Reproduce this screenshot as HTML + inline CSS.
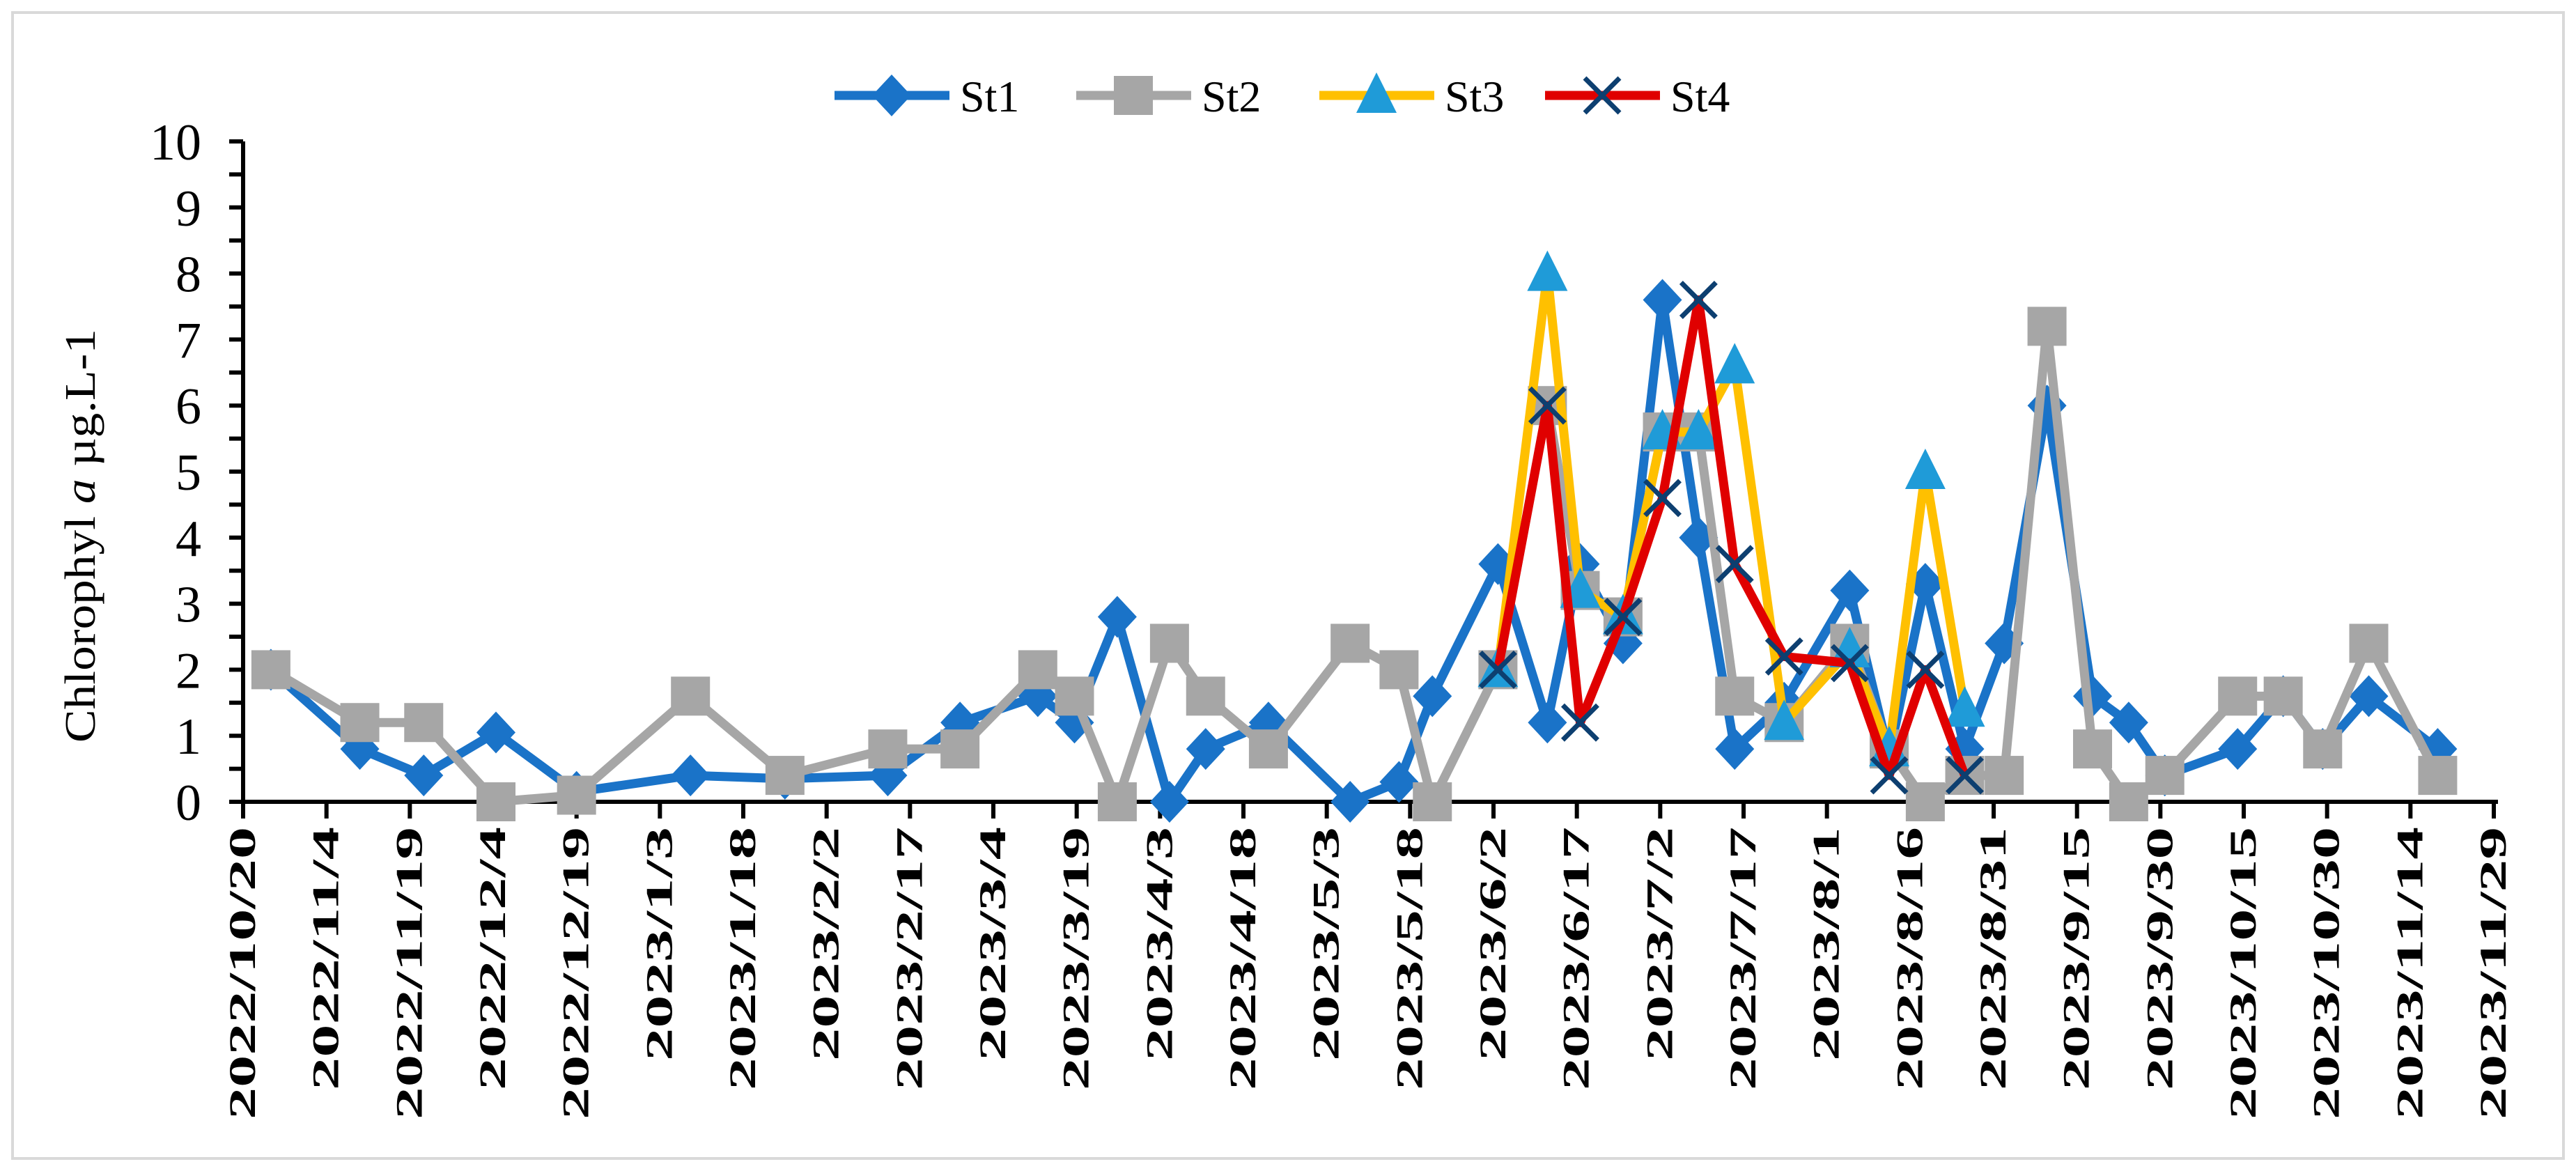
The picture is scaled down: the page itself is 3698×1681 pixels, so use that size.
<!DOCTYPE html>
<html><head><meta charset="utf-8">
<style>
html,body{margin:0;padding:0;background:#fff;}
svg{display:block;}
text{font-family:"Liberation Serif",serif;}
</style></head>
<body>
<svg id="chart" width="3698" height="1681" viewBox="0 0 3698 1681" xmlns="http://www.w3.org/2000/svg">
<rect x="18" y="18" width="3662" height="1645" fill="#fff" stroke="#d9d9d9" stroke-width="4"/>
<g id="axes"></g>
<g id="series"></g>
<g id="legend"></g>
<text transform="translate(136,769) rotate(-90)" text-anchor="middle" font-size="62" fill="#000" textLength="594" lengthAdjust="spacingAndGlyphs">Chlorophyl <tspan font-style="italic">a</tspan> µg.L-1</text>
</svg>
<script>
// day offsets from 2022/10/20
const daysAll = [5,21,32.5,45.5,60,80.5,97.5,116,129,143,149.6,157.3,166.7,173.2,184.5,199.2,208,214,225.8,234.7,240.6,248.3,255.4,261.9,268.4,277.3,289.1,296.2,302.7,309.8,316.9,324.6,332.8,339.3,345.8,358.9,367.1,374.2,382.5,394.9];
const st1 = [2.0,0.8,0.4,1.05,0.15,0.4,0.35,0.4,1.2,1.6,1.2,2.8,0.0,0.8,1.2,0.0,0.3,1.6,3.6,1.2,3.6,2.4,7.6,4.0,0.8,1.5,3.2,0.7,3.3,0.8,2.4,6.0,1.6,1.2,0.4,0.8,1.6,0.8,1.6,0.8];
const st2 = [2.0,1.2,1.2,0.0,0.1,1.6,0.4,0.8,0.8,2.0,1.6,0.0,2.4,1.6,0.8,2.4,2.0,0.0,2.0,6.0,3.2,2.8,5.6,5.6,1.6,1.2,2.4,0.8,0.0,0.4,0.4,7.2,0.8,0.0,0.4,1.6,1.6,0.8,2.4,0.4];
const daysSub = [225.8,234.7,240.6,248.3,255.4,261.9,268.4,277.3,289.1,296.2,302.7,309.8];
const st3 = [2.0,8.0,3.2,2.8,5.6,5.6,6.6,1.2,2.3,0.8,5.0,1.4];
const st4 = [2.0,6.0,1.2,2.8,4.6,7.6,3.6,2.2,2.1,0.4,2.0,0.4];
const xTickLabels = ["2022/10/20","2022/11/4","2022/11/19","2022/12/4","2022/12/19","2023/1/3","2023/1/18","2023/2/2","2023/2/17","2023/3/4","2023/3/19","2023/4/3","2023/4/18","2023/5/3","2023/5/18","2023/6/2","2023/6/17","2023/7/2","2023/7/17","2023/8/1","2023/8/16","2023/8/31","2023/9/15","2023/9/30","2023/10/15","2023/10/30","2023/11/14","2023/11/29"];
const yTickLabels = ["0","1","2","3","4","5","6","7","8","9","10"];

const NS="http://www.w3.org/2000/svg";
const X0=349,X1=3580,Y0=1151,Y1=203,DAYS=405,YMAX=10;
function xs(d){return X0+(X1-X0)*d/DAYS;}
function ys(v){return Y0-(Y0-Y1)*v/YMAX;}
function mk(tag,attrs,parent){const e=document.createElementNS(NS,tag);for(const k in attrs)e.setAttribute(k,attrs[k]);parent.appendChild(e);return e;}
const axes=document.getElementById('axes');
let ya=mk('line',{x1:X0,y1:Y0,x2:X0,y2:Y1,stroke:'#000','stroke-width':6},axes);


for(let i=0;i<=20;i++){
  const y=ys(i*0.5);
  const t=mk('line',{x1:X0-20,y1:y,x2:X0,y2:y,stroke:'#000','stroke-width':6},axes);
  
  
}
yTickLabels.forEach((l,i)=>{
  const t=mk('text',{x:X0-60,y:ys(+l)+26,'text-anchor':'end','font-size':74,fill:'#000'},axes);
  t.textContent=l;
  
  
});
let xa=mk('line',{x1:X0-3,y1:Y0,x2:X1+6,y2:Y0,stroke:'#000','stroke-width':6},axes);


xTickLabels.forEach((l,i)=>{
  const x=xs(i*15);
  const t=mk('line',{x1:x,y1:Y0,x2:x,y2:Y0+24,stroke:'#000','stroke-width':6},axes);
  
  
  const tx=mk('text',{transform:`translate(${x+17},${Y0+36}) rotate(-90)`,'text-anchor':'end','font-size':54,'font-weight':'bold',fill:'#000',textLength:l.length*42,lengthAdjust:'spacingAndGlyphs'},axes);
  tx.textContent=l;
  
  
});
function marker(type,x,y,g){
  let e;
  if(type==='diamond') e=mk('polygon',{points:`${x},${y-30} ${x+28},${y} ${x},${y+30} ${x-28},${y}`,fill:'#1a73c8'},g);
  else if(type==='square') e=mk('rect',{x:x-28,y:y-28,width:56,height:56,fill:'#a6a6a6'},g);
  else if(type==='tri') e=mk('polygon',{points:`${x},${y-33} ${x+29},${y+25} ${x-29},${y+25}`,fill:'#1f9bd8'},g);
  else { e=mk('path',{d:`M${x-25},${y-25}L${x+25},${y+25}M${x+25},${y-25}L${x-25},${y+25}`,stroke:'#0d3f70','stroke-width':7,fill:'none'},g); }
  return e;
}
const ser=document.getElementById('series');
const defs=[
 {name:'st1',days:daysAll,vals:st1,col:'#1a73c8',m:'diamond'},
 {name:'st2',days:daysAll,vals:st2,col:'#a6a6a6',m:'square'},
 {name:'st3',days:daysSub,vals:st3,col:'#ffc000',m:'tri'},
 {name:'st4',days:daysSub,vals:st4,col:'#e00000',m:'x'}
];
defs.forEach(s=>{
  const g=mk('g',{},ser);
  
  
  const pts=s.vals.map((v,i)=>xs(s.days[i])+','+ys(v)).join(' ');
  const pl=mk('polyline',{points:pts,fill:'none',stroke:s.col,'stroke-width':13,'stroke-linejoin':'round'},g);
  
  
  s.vals.forEach((v,i)=>{
    const m=marker(s.m,xs(s.days[i]),ys(v),g);
    
    
  });
});
const leg=document.getElementById('legend');
const legItems=[['St1',1198,'diamond','#1a73c8'],['St2',1545,'square','#a6a6a6'],['St3',1894,'tri','#ffc000'],['St4',2218,'x','#e00000']];
legItems.forEach(([lab,x,m,col])=>{
  const g=mk('g',{},leg);
  
  
  mk('line',{x1:x,y1:137,x2:x+165,y2:137,stroke:col,'stroke-width':13},g);
  marker(m,x+82,137,g);
  const t=mk('text',{x:x+180,y:160,'font-size':64,fill:'#000'},g);
  t.textContent=lab;
});
</script>
</body></html>
